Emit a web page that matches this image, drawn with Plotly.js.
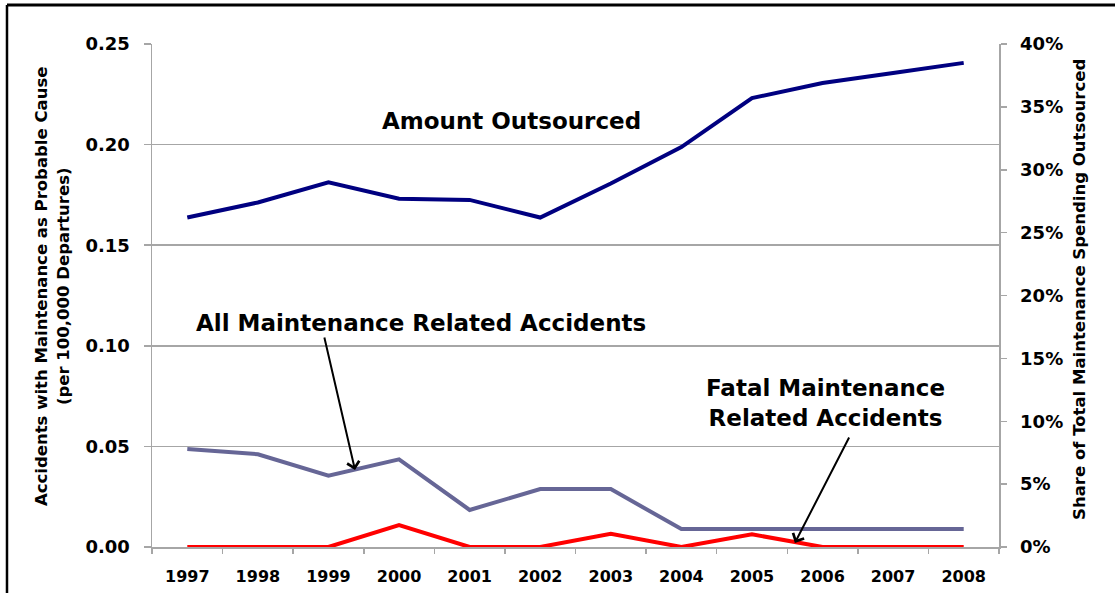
<!DOCTYPE html>
<html>
<head>
<meta charset="utf-8">
<script src="https://cdn.plot.ly/plotly-3.0.1.min.js"></script>
<style>html,body{margin:0;padding:0;background:#fff;}#chart{width:1115px;height:593px;}</style>
</head>
<body>
<div id="chart"></div>
<script>
var years = ['1997','1998','1999','2000','2001','2002','2003','2004','2005','2006','2007','2008'];
var amountOutsourced = [26.2, 27.4, 29.0, 27.7, 27.6, 26.2, 28.9, 31.8, 35.7, 36.9, 37.7, 38.5];
var allMaintenance = [0.0487, 0.0461, 0.0354, 0.0436, 0.0184, 0.0288, 0.0288, 0.0089, 0.0089, 0.0089, 0.0089, 0.0089];
var fatalMaintenance = [0, 0, 0, 0.0109, 0, 0, 0.0066, 0, 0.0063, 0, 0, 0];
var leftTicks = [0, 0.05, 0.10, 0.15, 0.20, 0.25];
var leftTickText = ['0.00', '0.05', '0.10', '0.15', '0.20', '0.25'];
var rightTicks = [0, 5, 10, 15, 20, 25, 30, 35, 40];
var rightTickText = ['0%', '5%', '10%', '15%', '20%', '25%', '30%', '35%', '40%'];

var FONT = 'DejaVu Sans, Arial, sans-serif';
var GRID = '#a6a6a6';

var traces = [
  {x: years, y: allMaintenance, type: 'scatter', mode: 'lines', name: 'All Maintenance Related Accidents',
   line: {color: '#666696', width: 4}, yaxis: 'y'},
  {x: years, y: fatalMaintenance, type: 'scatter', mode: 'lines', name: 'Fatal Maintenance Related Accidents',
   line: {color: '#ff0000', width: 4}, yaxis: 'y'},
  {x: years, y: amountOutsourced, type: 'scatter', mode: 'lines', name: 'Amount Outsourced',
   line: {color: '#000080', width: 4}, yaxis: 'y2'}
];

var annFont = {family: FONT, size: 23, color: '#000', weight: 'bold'};
var titleFont = {family: FONT, size: 16.5, color: '#000', weight: 'bold'};
var layout = {
  width: 1115, height: 593,
  margin: {l: 152, r: 116, t: 44, b: 46},
  paper_bgcolor: '#fff', plot_bgcolor: '#fff',
  showlegend: false,
  font: {family: FONT, color: '#000'},
  xaxis: {
    type: 'category', range: [-0.5, 11.5],
    showline: true, linecolor: GRID, linewidth: 1.5,
    ticks: 'outside', tickson: 'boundaries', ticklen: 5, tickcolor: GRID, tickwidth: 1.5,
    showgrid: false, zeroline: false, automargin: false,
    tickfont: {family: FONT, size: 16, color: '#000', weight: 'bold'},
    ticklabelstandoff: 14
  },
  yaxis: {
    range: [0, 0.25], tickvals: leftTicks, ticktext: leftTickText,
    showline: true, linecolor: GRID, linewidth: 1.5,
    ticks: 'outside', ticklen: 7, tickcolor: GRID, tickwidth: 1.5,
    showgrid: true, gridcolor: GRID, gridwidth: 1.5, zeroline: false,
    tickfont: {family: FONT, size: 18, color: '#000', weight: 'bold'},
    ticklabelstandoff: 10,
    automargin: false
  },
  yaxis2: {
    range: [0, 40], tickvals: rightTicks, ticktext: rightTickText,
    overlaying: 'y', side: 'right',
    showline: true, linecolor: GRID, linewidth: 1.5,
    ticks: 'outside', ticklen: 6, tickcolor: GRID, tickwidth: 1.5,
    showgrid: false, zeroline: false,
    tickfont: {family: FONT, size: 18, color: '#000', weight: 'bold'},
    ticklabelstandoff: 10,
    automargin: false
  },
  annotations: [
    {text: 'Accidents with Maintenance as Probable Cause<br>(per 100,000 Departures)',
     xref: 'paper', yref: 'paper', x: -0.118, y: 0.517, xanchor: 'center', yanchor: 'middle',
     textangle: -90, showarrow: false, font: titleFont},
    {text: 'Share of Total Maintenance Spending Outsourced',
     xref: 'paper', yref: 'paper', x: 1.0956, y: 0.513, xanchor: 'center', yanchor: 'middle',
     textangle: -90, showarrow: false, font: titleFont},
    {text: 'Amount Outsourced', xref: 'paper', yref: 'paper', x: 0.4239, y: 0.8469,
     xanchor: 'center', yanchor: 'middle', showarrow: false, font: annFont},
    {text: 'All Maintenance Related Accidents', xref: 'paper', yref: 'paper', x: 0.3176, y: 0.4453,
     xanchor: 'center', yanchor: 'middle', showarrow: false, font: annFont},
    {text: 'Fatal Maintenance<br>Related Accidents', xref: 'paper', yref: 'paper', x: 0.7957, y: 0.2863,
     xanchor: 'center', yanchor: 'middle', showarrow: false, font: annFont},
    {text: '', xref: 'paper', yref: 'paper', x: 0.2397, y: 0.153, ax: -31, ay: -134,
     showarrow: true, arrowhead: 4, arrowsize: 1.2, arrowwidth: 2, arrowcolor: '#000'},
    {text: '', xref: 'paper', yref: 'paper', x: 0.759, y: 0.008, ax: 55, ay: -107,
     showarrow: true, arrowhead: 4, arrowsize: 1.2, arrowwidth: 2, arrowcolor: '#000'}
  ],
  shapes: [
    {type: 'line', xref: 'paper', yref: 'paper', x0: -0.1712, x1: 1.14, y0: 1.0775, y1: 1.0775,
     line: {color: '#000', width: 3}},
    {type: 'line', xref: 'paper', yref: 'paper', x0: -0.1712, x1: -0.1712, y0: 1.0775, y1: -0.1,
     line: {color: '#000', width: 2.5}}
  ]
};

Plotly.newPlot('chart', traces, layout, {displayModeBar: false, staticPlot: true});
</script>
</body>
</html>
